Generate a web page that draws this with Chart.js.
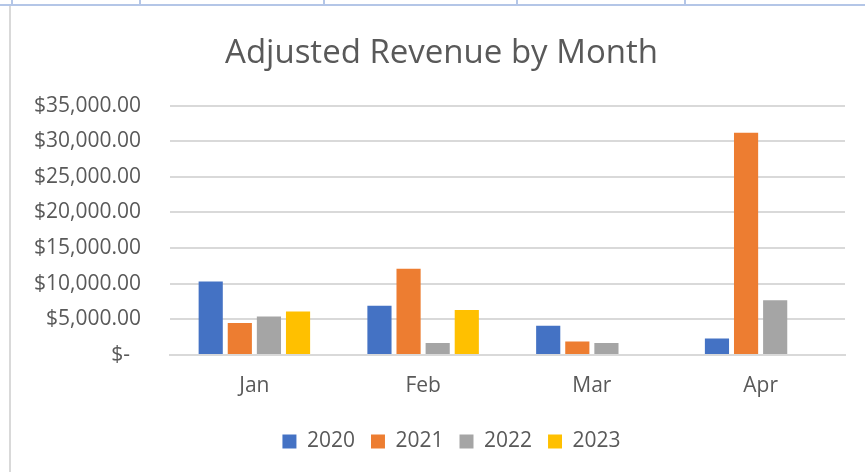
<!DOCTYPE html>
<html>
<head>
<meta charset="utf-8">
<script src="https://cdn.jsdelivr.net/npm/chart.js@4"></script>
<style>
    html, body { margin: 0; padding: 0; background: #fff; }
    body { width: 865px; height: 472px; position: relative; overflow: hidden; }
    /* 表格网格线 */
    .hline { position: absolute; left: 0; top: 4px; width: 865px; height: 2px; background: #b4c6e7; }
    .vline { position: absolute; top: 0; width: 2px; height: 5px; background: #b4c6e7; }
    .chart-border { position: absolute; left: 9px; top: 6px; width: 2px; height: 466px; background: #d9d9d9; }
    canvas { position: absolute; left: 0; top: 0; }
</style>
</head>
<body>
<div class="hline"></div>
<div class="vline" style="left:11px"></div>
<div class="vline" style="left:139px"></div>
<div class="vline" style="left:323px"></div>
<div class="vline" style="left:516px"></div>
<div class="vline" style="left:684px"></div>
<div class="chart-border"></div>
<canvas id="revenue-chart" width="865" height="472"></canvas>
<script>
// 数据
const months = ['Jan', 'Feb', 'Mar', 'Apr'];
const years = ['2020', '2021', '2022', '2023'];
const revenue2020 = [10300, 6900, 4100, 2300];
const revenue2021 = [4500, 12100, 1900, 31200];
const revenue2022 = [5400, 1700, 1700, 7700];
const revenue2023 = [6100, 6300, null, null];
const yTicks = [0, 5000, 10000, 15000, 20000, 25000, 30000, 35000];

const colors = ['#4472C4', '#ED7D31', '#A5A5A5', '#FFC000'];
const textColor = '#595959';
const fontFamily = "'Open Sans', sans-serif";

function formatMoney(v) {
    if (v === 0) return '$-  ';
    return '$' + v.toLocaleString('en-US', { minimumFractionDigits: 2, maximumFractionDigits: 2 });
}

const seriesValues = [revenue2020, revenue2021, revenue2022, revenue2023];

// 图表在 Excel 里比窗口宽，标题和图例的中心偏右
const shiftBoxes = {
    id: 'shiftBoxes',
    afterUpdate(chart) {
        chart.legend.left += 29;
        chart.legend.right += 29;
        chart.titleBlock.left += 19;
        chart.titleBlock.right += 19;
    }
};

const canvas = document.getElementById('revenue-chart');
window.revenueChart = new Chart(canvas, {
    type: 'bar',
    data: {
        labels: months,
        datasets: years.map((y, i) => ({
            label: y,
            data: seriesValues[i],
            backgroundColor: colors[i],
            borderWidth: 0,
            categoryPercentage: 0.69,
            barPercentage: 0.83
        }))
    },
    plugins: [shiftBoxes],
    options: {
        responsive: false,
        animation: false,
        layout: {
            padding: { left: 0, right: 20, top: 0, bottom: 10 }
        },
        plugins: {
            title: {
                display: true,
                text: 'Adjusted Revenue by Month',
                color: textColor,
                font: { family: fontFamily, size: 33, weight: 'normal' },
                padding: { top: 34, bottom: 32 }
            },
            legend: {
                position: 'bottom',
                labels: {
                    color: textColor,
                    boxWidth: 14,
                    boxHeight: 14,
                    padding: 16,
                    font: { family: fontFamily, size: 21 }
                }
            },
            tooltip: { enabled: false }
        },
        scales: {
            x: {
                grid: { display: false },
                border: { color: '#d9d9d9', width: 2 },
                ticks: {
                    color: textColor,
                    padding: 10,
                    font: { family: fontFamily, size: 21 }
                },
                afterFit: (scale) => { scale.height = 60; }
            },
            y: {
                min: 0,
                max: 35000,
                border: { display: false },
                grid: { color: '#d9d9d9', lineWidth: 2, drawTicks: false },
                afterBuildTicks: (scale) => {
                    scale.ticks = yTicks.map(v => ({ value: v }));
                },
                ticks: {
                    color: textColor,
                    padding: 29,
                    font: { family: fontFamily, size: 21 },
                    callback: (v) => formatMoney(v)
                },
                afterFit: (scale) => { scale.width = 170; }
            }
        }
    }
});
</script>
</body>
</html>
